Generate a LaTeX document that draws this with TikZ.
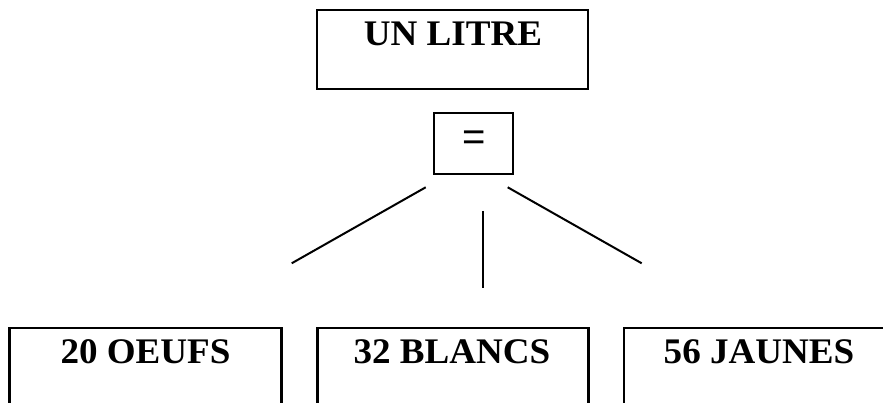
\documentclass[tikz,border=0pt]{standalone}
\usepackage{fontspec}
\setmainfont{Liberation Serif}
\newfontfamily\eqfont{Liberation Sans}
\begin{document}
\begin{tikzpicture}[x=1pt,y=-1pt,
  boxshape/.style={draw, line width=2.2pt, inner sep=0pt},
  lbl/.style={font=\fontsize{36}{40}\selectfont\bfseries, anchor=base, inner sep=0pt},
  link/.style={line width=2pt}]
\useasboundingbox (0,0) rectangle (883,403);
\clip (0,0) rectangle (883,403);
% top box
\node[boxshape, minimum width=271pt, minimum height=79pt] (litre) at (452.5,49.5) {};
\node[lbl] (litretxt) at (453,45.5) {\scalebox{1.03}[1]{UN LITRE}};
% equals box
\node[boxshape, minimum width=79pt, minimum height=61pt] (eq) at (473.5,143.5) {};
\node[inner sep=0pt, font=\eqfont\fontsize{40}{44}\selectfont] (eqtxt) at (473.7,141) {=};
% bottom boxes
\node[boxshape, minimum width=272pt, minimum height=92pt] (oeufs) at (145.5,374.3) {};
\node[boxshape, minimum width=271pt, minimum height=92pt] (blancs) at (453,374.3) {};
\node[boxshape, minimum width=280pt, minimum height=92pt] (jaunes) at (764,374.3) {};
\node[lbl] (oeufstxt) at (145.5,363) {\scalebox{1.03}[1]{20 OEUFS}};
\node[lbl] (blancstxt) at (452,363) {\scalebox{1.03}[1]{32 BLANCS}};
\node[lbl] (jaunestxt) at (759,363) {\scalebox{1.03}[1]{56 JAUNES}};
% connectors
\coordinate (l1a) at (425.7,187.3);
\coordinate (l1b) at (291.7,263.3);
\coordinate (l2a) at (482.7,211);
\coordinate (l2b) at (482.7,287.7);
\coordinate (l3a) at (507.7,187.3);
\coordinate (l3b) at (641.7,263.3);
\draw[link] (l1a) -- (l1b);
\draw[link] (l2a) -- (l2b);
\draw[link] (l3a) -- (l3b);
\end{tikzpicture}
\end{document}
